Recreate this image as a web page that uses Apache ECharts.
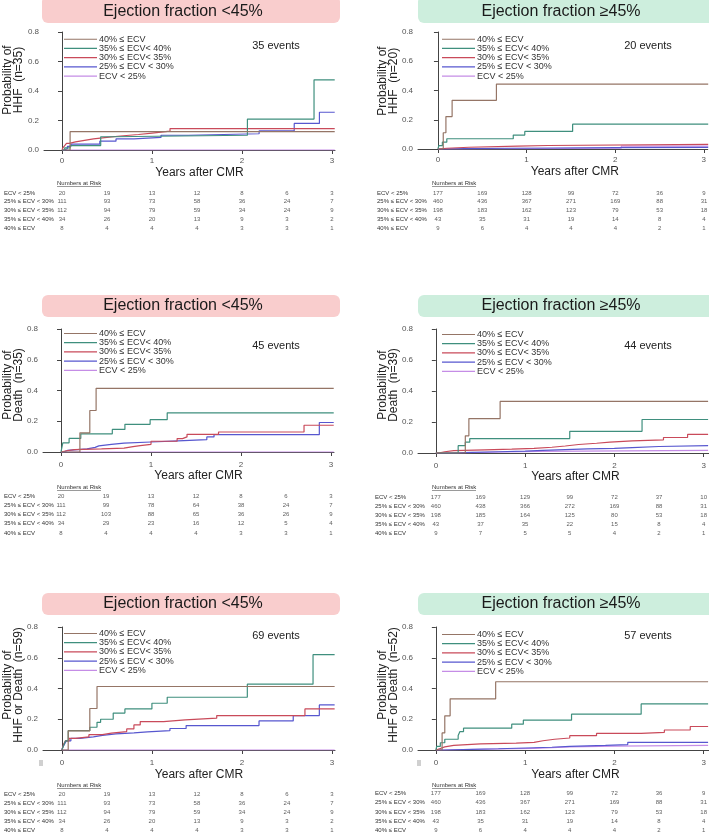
<!DOCTYPE html>
<html><head><meta charset="utf-8">
<script src="https://cdn.jsdelivr.net/npm/echarts@6/dist/echarts.min.js"></script>
<style>html,body{margin:0;padding:0;background:#fff}#c{width:709px;height:836px}</style>
</head><body><div id="c"></div>
<script>
// ---------- categories / labels ----------
const seriesNames = ['40% ≤ ECV', '35% ≤ ECV< 40%', '30% ≤ ECV< 35%', '25% ≤ ECV < 30%', 'ECV < 25%'];
const seriesColors = ['#957566', '#3f8f7e', '#c94a5a', '#5757cf', '#c58de6'];
const riskRowLabels = ['ECV < 25%', '25% ≤ ECV < 30%', '30% ≤ ECV < 35%', '35% ≤ ECV < 40%', '40% ≤ ECV'];
const riskTimes = [0, 0.5, 1, 1.5, 2, 2.5, 3];
const xTickValues = [0, 1, 2, 3];
const panelTitles = ['Ejection fraction <45%', 'Ejection fraction ≥45%', 'Ejection fraction <45%', 'Ejection fraction ≥45%', 'Ejection fraction <45%', 'Ejection fraction ≥45%'];
const yTitles = ['Probability of\nHHF  (n=35)', 'Probability of\nHHF  (n=20)', 'Probability of\nDeath  (n=35)', 'Probability of\nDeath  (n=39)', 'Probability of\nHHF or Death  (n=59)', 'Probability of\nHHF or Death  (n=52)'];
const eventCounts = [35, 20, 45, 44, 69, 57];

// ---------- curves: [years, cumulative probability] ----------
// HHF, EF < 45%
const hhfLow40 = [[0,0],[0.09,0.125],[3.03,0.125]];
const hhfLow35 = [[0,0],[0.03,0.015],[0.09,0.03],[0.43,0.09],[0.55,0.1],[2.06,0.21],[2.8,0.476],[3.03,0.476]];
const hhfLow30 = [[0,0],[0.01,0.015],[0.03,0.03],[0.05,0.045],[0.08,0.055],[0.15,0.065],[0.25,0.075],[0.35,0.085],[0.5,0.095],[0.65,0.105],[0.85,0.115],[1.0,0.128],[1.2,0.145],[3.03,0.145]];
const hhfLow25 = [[0,0],[0.03,0.01],[0.06,0.025],[0.1,0.04],[0.42,0.06],[0.6,0.075],[0.8,0.085],[1.1,0.1],[1.4,0.11],[2.19,0.13],[2.58,0.18],[2.86,0.256],[3.03,0.256]];
const hhfLowLt25 = [[0,0],[3.03,0]];
// HHF, EF >= 45%
const hhfHigh40 = [[0,0],[0.06,0.111],[0.09,0.222],[0.16,0.333],[0.66,0.444],[3.05,0.444]];
const hhfHigh35 = [[0,0],[0.01,0.023],[0.05,0.047],[0.1,0.07],[0.85,0.095],[0.98,0.12],[1.52,0.17],[3.05,0.17]];
const hhfHigh30 = [[0,0],[0.02,0.005],[0.1,0.012],[0.35,0.02],[0.9,0.024],[1.24,0.032],[3.05,0.032]];
const hhfHigh25 = [[0,0],[0.05,0.003],[0.3,0.005],[0.8,0.007],[1.3,0.009],[2.0,0.011],[3.05,0.011]];
const hhfHighLt25 = [[0,0],[0.3,0.006],[2.07,0.02],[3.05,0.02]];
// Death, EF < 45%
const deathLow40 = [[0,0],[0.21,0.125],[0.32,0.27],[0.39,0.414],[3.03,0.414]];
const deathLow35 = [[0,0],[0.02,0.06],[0.09,0.088],[0.22,0.118],[0.57,0.147],[0.71,0.18],[0.99,0.21],[1.18,0.255],[3.03,0.255]];
const deathLow30 = [[0,0],[0.02,0.008],[0.06,0.015],[0.15,0.02],[0.45,0.025],[0.7,0.035],[0.8,0.042],[0.88,0.05],[1.0,0.07],[1.29,0.087],[1.35,0.098],[1.4,0.115],[1.75,0.13],[2.7,0.174],[3.03,0.174]];
const deathLow25 = [[0,0],[0.03,0.01],[0.07,0.02],[0.29,0.03],[0.38,0.04],[0.42,0.05],[0.56,0.058],[0.7,0.065],[1.0,0.072],[1.3,0.08],[1.62,0.098],[1.7,0.113],[2.87,0.192],[3.03,0.192]];
const deathLowLt25 = [[0,0],[3.03,0]];
// Death, EF >= 45%
const deathHigh40 = [[0,0],[0.33,0.111],[0.37,0.222],[0.72,0.333],[3.05,0.333]];
const deathHigh35 = [[0,0],[0.25,0.047],[0.33,0.07],[0.38,0.093],[1.5,0.14],[2.31,0.216],[3.05,0.216]];
const deathHigh30 = [[0,0],[0.03,0.008],[0.1,0.015],[0.2,0.02],[0.55,0.025],[0.85,0.03],[1.1,0.037],[1.3,0.045],[1.45,0.055],[1.6,0.063],[1.8,0.07],[1.95,0.078],[2.2,0.085],[2.55,0.1],[2.82,0.12],[3.05,0.12]];
const deathHigh25 = [[0,0],[0.15,0.004],[0.4,0.008],[0.7,0.012],[1.0,0.017],[1.2,0.022],[1.45,0.027],[1.7,0.03],[2.0,0.035],[2.2,0.042],[2.5,0.047],[3.05,0.047]];
const deathHighLt25 = [[0,0],[0.25,0.005],[0.6,0.01],[1.15,0.017],[3.05,0.017]];
// HHF or Death, EF < 45%
const compLow40 = [[0,0],[0.07,0.125],[0.31,0.27],[0.39,0.413],[3.03,0.413]];
const compLow35 = [[0,0],[0.02,0.03],[0.04,0.06],[0.07,0.126],[0.31,0.148],[0.39,0.18],[0.43,0.2],[0.57,0.24],[0.7,0.267],[1.0,0.304],[1.17,0.343],[2.06,0.428],[2.79,0.62],[3.03,0.62]];
const compLow30 = [[0,0],[0.01,0.02],[0.02,0.04],[0.04,0.06],[0.08,0.076],[0.15,0.085],[0.3,0.1],[0.45,0.11],[0.55,0.12],[0.72,0.137],[0.8,0.163],[0.87,0.185],[1.13,0.196],[1.37,0.207],[1.72,0.224],[2.7,0.267],[3.03,0.267]];
const compLow25 = [[0,0],[0.01,0.02],[0.03,0.04],[0.05,0.06],[0.1,0.075],[0.2,0.085],[0.35,0.095],[0.45,0.105],[0.6,0.112],[0.8,0.118],[0.95,0.126],[1.2,0.14],[1.38,0.159],[2.19,0.189],[2.57,0.224],[2.86,0.293],[3.03,0.293]];
const compLowLt25 = [[0,0],[3.03,0]];
// HHF or Death, EF >= 45%
const compHigh40 = [[0,0],[0.07,0.111],[0.1,0.222],[0.16,0.333],[0.67,0.444],[3.05,0.444]];
const compHigh35 = [[0,0],[0.01,0.023],[0.05,0.047],[0.1,0.07],[0.25,0.095],[0.27,0.12],[0.31,0.142],[0.85,0.168],[0.98,0.194],[1.52,0.233],[2.3,0.3],[3.05,0.3]];
const compHigh30 = [[0,0],[0.02,0.01],[0.05,0.02],[0.1,0.03],[0.2,0.04],[0.5,0.045],[0.9,0.05],[1.1,0.06],[1.2,0.07],[1.33,0.078],[1.5,0.093],[1.8,0.108],[2.3,0.115],[2.56,0.13],[2.85,0.153],[3.05,0.153]];
const compHigh25 = [[0,0],[0.1,0.004],[0.4,0.008],[0.7,0.013],[1.0,0.018],[1.3,0.024],[1.5,0.03],[1.9,0.035],[2.15,0.05],[3.05,0.05]];
const compHighLt25 = [[0,0],[0.1,0.005],[0.5,0.01],[1.1,0.02],[1.5,0.025],[2.0,0.03],[3.05,0.032]];

// ---------- numbers at risk (rows: ECV<25, 25-30, 30-35, 35-40, >=40) ----------
const riskHhfLow = [[20,19,13,12,8,6,3],[111,93,73,58,36,24,7],[112,94,79,59,34,24,9],[34,26,20,13,9,3,2],[8,4,4,4,3,3,1]];
const riskHhfHigh = [[177,169,128,99,72,36,9],[460,436,367,271,169,88,31],[198,183,162,123,79,53,18],[43,35,31,19,14,8,4],[9,6,4,4,4,2,1]];
const riskDeathLow = [[20,19,13,12,8,6,3],[111,99,78,64,38,24,7],[112,103,88,65,36,26,9],[34,29,23,16,12,5,4],[8,4,4,4,3,3,1]];
const riskDeathHigh = [[177,169,129,99,72,37,10],[460,438,366,272,169,88,31],[198,185,164,125,80,53,18],[43,37,35,22,15,8,4],[9,7,5,5,4,2,1]];
const riskCompLow = [[20,19,13,12,8,6,3],[111,93,73,58,36,24,7],[112,94,79,59,34,24,9],[34,26,20,13,9,3,2],[8,4,4,4,3,3,1]];
const riskCompHigh = [[177,169,128,99,72,36,9],[460,436,367,271,169,88,31],[198,183,162,123,79,53,18],[43,35,31,19,14,8,4],[9,6,4,4,4,2,1]];

const panelCurves = [
  [hhfLow40, hhfLow35, hhfLow30, hhfLow25, hhfLowLt25],
  [hhfHigh40, hhfHigh35, hhfHigh30, hhfHigh25, hhfHighLt25],
  [deathLow40, deathLow35, deathLow30, deathLow25, deathLowLt25],
  [deathHigh40, deathHigh35, deathHigh30, deathHigh25, deathHighLt25],
  [compLow40, compLow35, compLow30, compLow25, compLowLt25],
  [compHigh40, compHigh35, compHigh30, compHigh25, compHighLt25]
];
const panelRisk = [riskHhfLow, riskHhfHigh, riskDeathLow, riskDeathHigh, riskCompLow, riskCompHigh];

// ---------- layout ----------
const PINK = '#f9cdcd', GREEN = '#cdeedd';
const L = [
 {gl:44, gt:32, gw:291, gh:118, xmin:-0.2, xmax:3.033, legL:64, legT:34.75, evX:276, evY:46, boxX:42, boxY:-4, boxW:298, boxH:27, box:PINK, tX:183, tY:12, ynX:13, ynY:80, xnGap:17, xnPad:20, xlM:7, rhX:57, rhY:183, rlX:4, r0:193, dr:8.75},
 {gl:418, gt:32, gw:290, gh:117, xmin:-0.225, xmax:3.045, legL:442, legT:34.75, evX:648, evY:46, boxX:418, boxY:-4, boxW:300, boxH:27, box:GREEN, tX:561, tY:12, ynX:388, ynY:81, xnGap:17, xnPad:24, xlM:7, rhX:432, rhY:183, rlX:377, r0:193, dr:8.75},
 {gl:43, gt:329, gw:291, gh:123, xmin:-0.2, xmax:3.033, legL:64, legT:329, evX:276, evY:346, boxX:42, boxY:295, boxW:298, boxH:22, box:PINK, tX:183, tY:306, ynX:13, ynY:385, xnGap:18, xnPad:20, xlM:9, rhX:57, rhY:487, rlX:4, r0:496, dr:9.25},
 {gl:418, gt:329, gw:291, gh:124, xmin:-0.2, xmax:3.06, legL:442, legT:330, evX:648, evY:346, boxX:418, boxY:295, boxW:300, boxH:22, box:GREEN, tX:561, tY:306, ynX:388, ynY:385, xnGap:18, xnPad:24, xlM:9, rhX:432, rhY:487, rlX:375, r0:497, dr:9.2},
 {gl:43, gt:627, gw:292, gh:123, xmin:-0.21, xmax:3.034, legL:64, legT:629, evX:276, evY:636, boxX:42, boxY:593, boxW:298, boxH:22, box:PINK, tX:183, tY:604, ynX:13, ynY:685, xnGap:19, xnPad:20, xlM:9, rhX:57, rhY:785, rlX:4, r0:794, dr:9.1},
 {gl:418, gt:627, gw:291, gh:123, xmin:-0.2, xmax:3.06, legL:442, legT:630, evX:648, evY:636, boxX:418, boxY:593, boxW:300, boxH:22, box:GREEN, tX:561, tY:604, ynX:388, ynY:685, xnGap:19, xnPad:24, xlM:9, rhX:432, rhY:785, rlX:375, r0:793.5, dr:9.3}
];

const FONT = '"Liberation Sans", Arial, sans-serif';
const AX = '#444';
const grid = [], xAxis = [], yAxis = [], series = [], legend = [], graphic = [];

L.forEach((p, i) => {
  // plot grid
  grid.push({left: p.gl, top: p.gt, width: p.gw, height: p.gh});
  xAxis.push({
    type: 'value', gridIndex: i, min: p.xmin, max: p.xmax,
    axisLine: {lineStyle: {color: AX, width: 1}},
    axisTick: {show: true, length: 4, customValues: xTickValues, lineStyle: {color: AX}},
    axisLabel: {customValues: xTickValues, fontSize: 8, color: '#555', margin: p.xlM, fontFamily: FONT},
    splitLine: {show: false},
    name: 'Years after CMR', nameLocation: 'middle', nameGap: p.xnGap,
    nameTextStyle: {fontSize: 12, color: '#222', fontFamily: FONT, padding: [0, 0, 0, p.xnPad]}
  });
  yAxis.push({
    type: 'value', gridIndex: i, min: 0, max: 0.8, interval: 0.2,
    axisLine: {show: true, lineStyle: {color: AX, width: 1}},
    axisTick: {show: true, length: 4, lineStyle: {color: AX}},
    axisLabel: {fontSize: 8, color: '#555', margin: 5, fontFamily: FONT, formatter: v => v.toFixed(1)},
    splitLine: {show: false}
  });
  panelCurves[i].forEach((d, k) => {
    series.push({
      type: 'line', name: seriesNames[k], xAxisIndex: i, yAxisIndex: i, data: d,
      step: 'end', symbol: 'none', silent: true, z: 3 + (4 - k),
      lineStyle: {color: seriesColors[k], width: 1.2}, itemStyle: {color: seriesColors[k]}
    });
  });
  legend.push({
    left: p.legL, top: p.legT, orient: 'vertical', padding: 0, itemGap: 0.2,
    icon: 'rect', itemWidth: 33, itemHeight: 1.2, selectedMode: false, data: seriesNames,
    textStyle: {fontSize: 9, color: '#333', lineHeight: 8.5, height: 8.5, fontFamily: FONT, padding: [0, 0, 0, -3]}
  });
  // decorations
  graphic.push({type: 'rect', shape: {x: p.boxX, y: p.boxY, width: p.boxW, height: p.boxH, r: 6}, style: {fill: p.box}, z: 0});
  graphic.push({type: 'text', x: p.tX, y: p.tY, style: {text: panelTitles[i], font: '16px ' + FONT, fill: '#1a1a1a', align: 'center', verticalAlign: 'middle'}});
  graphic.push({type: 'text', x: p.evX, y: p.evY, style: {text: eventCounts[i] + ' events', font: '11px ' + FONT, fill: '#222', align: 'center', verticalAlign: 'middle'}});
  graphic.push({type: 'text', x: p.ynX, y: p.ynY, rotation: Math.PI / 2, style: {text: yTitles[i], font: '12px ' + FONT, lineHeight: 11, fill: '#222', align: 'center', verticalAlign: 'middle'}});
  graphic.push({type: 'text', x: p.rhX, y: p.rhY, style: {text: 'Numbers at Risk', font: '6px ' + FONT, fill: '#333', align: 'left', verticalAlign: 'middle'}});
  graphic.push({type: 'line', shape: {x1: p.rhX, y1: p.rhY + 3.5, x2: p.rhX + 44, y2: p.rhY + 3.5}, style: {stroke: '#555', lineWidth: 0.6}});
});

// risk tables: separate grids sharing each panel's x scale
L.forEach((p, i) => {
  const gi = L.length + i;
  grid.push({left: p.gl, top: p.r0 - p.dr / 2, width: p.gw, height: p.dr * 5});
  xAxis.push({type: 'value', gridIndex: gi, min: p.xmin, max: p.xmax, show: false});
  yAxis.push({
    type: 'category', gridIndex: gi, data: riskRowLabels, inverse: true,
    axisLine: {show: false}, axisTick: {show: false},
    axisLabel: {align: 'left', margin: p.gl - p.rlX, fontSize: 6, color: '#333', fontFamily: FONT}
  });
  const pts = [];
  panelRisk[i].forEach((row, r) => row.forEach((v, c) => pts.push([riskTimes[c], r, v])));
  series.push({
    type: 'scatter', xAxisIndex: gi, yAxisIndex: gi, data: pts, symbolSize: 1, silent: true,
    itemStyle: {color: 'rgba(0,0,0,0)'},
    label: {show: true, position: 'inside', formatter: q => String(q.value[2]), fontSize: 6, color: '#333', fontFamily: FONT}
  });
});

// small grey marks below the bottom panels' axes
graphic.push({type: 'rect', shape: {x: 39, y: 760, width: 4, height: 6}, style: {fill: '#d0d0d0'}});
graphic.push({type: 'rect', shape: {x: 417, y: 760, width: 4, height: 6}, style: {fill: '#d0d0d0'}});

const chart = echarts.init(document.getElementById('c'), null, {renderer: 'canvas'});
chart.setOption({
  animation: false,
  backgroundColor: '#fff',
  textStyle: {fontFamily: FONT},
  grid, xAxis, yAxis, series, legend, graphic
});
</script></body></html>
